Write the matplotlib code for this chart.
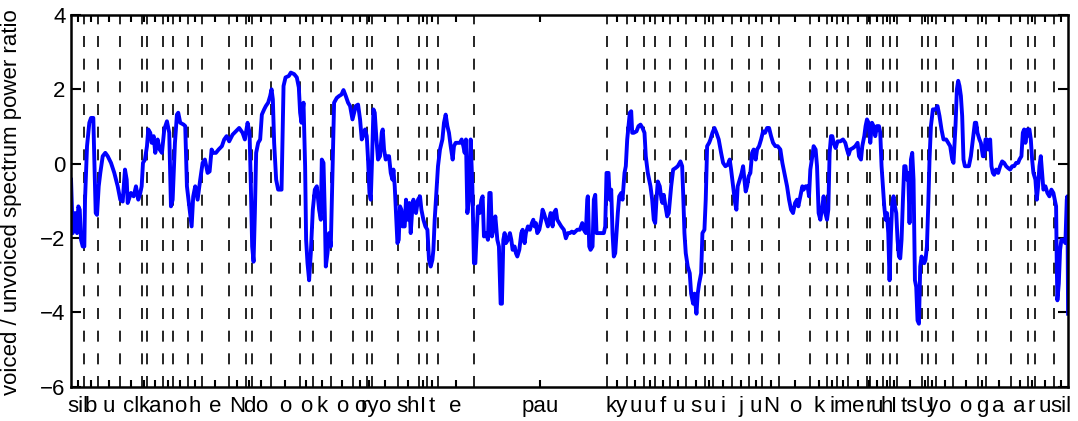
import numpy as np
import matplotlib
matplotlib.use("Agg")
import matplotlib.pyplot as plt

plt.rcParams['font.family'] = ['Liberation Sans', 'DejaVu Sans']

# segment boundaries (frames) and phoneme labels
boundaries = [0, 13, 27, 49, 71, 76, 92, 102, 117, 131, 158, 175, 181, 200, 229, 242,
              260, 282, 296, 301, 327, 348, 356, 367, 403, 536, 556, 574, 585, 600,
              616, 635, 643, 662, 679, 692, 709, 740, 757, 767, 778, 797, 800, 813,
              820, 827, 852, 858, 866, 883, 908, 916, 941, 958, 965, 984, 998]
phonemes = ['sil', 'b', 'u', 'cl', 'k', 'a', 'n', 'o', 'h', 'e', 'N', 'd', 'o', 'o',
            'o', 'k', 'o', 'o', 'ry', 'o', 'sh', 'I', 't', 'e', 'pau', 'ky', 'u', 'u',
            'f', 'u', 's', 'u', 'i', 'j', 'u', 'N', 'o', 'k', 'i', 'm', 'e', 'r', 'u',
            'h', 'I', 'ts', 'U', 'y', 'o', 'o', 'g', 'a', 'a', 'r', 'u', 'sil']

# voiced / unvoiced spectrum power ratio
ratio_x = [0, 1.7, 4, 6, 7.3, 8.7, 10, 11.7, 13.3, 14, 16, 18.3, 20, 22.3, 23.3, 24.7,
           26, 27.7, 29.3, 31.7, 34.3, 36.7, 40, 43.3, 46.7, 49.3, 51.7, 54, 55.7, 56.7,
           60, 62.7, 65, 67.3, 69.3, 70.7, 72, 74, 76, 77.3, 79.3, 80.7, 82.7, 84.3,
           86.7, 88.7, 91, 93.3, 96, 98.3, 100, 101.7, 104, 106, 107.3, 109.3, 112.7,
           114.3, 116, 118.3, 120.7, 122.3, 124.3, 126.7, 129.3, 131.7, 134, 136.7,
           138.7, 140.7, 142.3, 145, 147.7, 151, 153.3, 155.7, 158.3, 161.7, 165,
           168.3, 171.7, 174, 176.7, 178.7, 180, 181.3, 182.7, 184, 185.3, 187.3,
           189.3, 191, 193.3, 195, 197.3, 199.3, 200.7, 202, 203.3, 205.3, 207.3,
           210.7, 212.7, 214.7, 218, 220, 223.3, 226, 228, 229.3, 230.7, 232.7, 234.3,
           235.3, 236.7, 238.3, 240, 242, 244, 246, 248.3, 250, 251, 252.7, 254, 255,
           256.7, 258.3, 260, 261.7, 263.3,
           266, 268.3, 270.7, 272.7, 275, 277.3, 279.3, 281.7, 283.3, 285, 287.3,
           289.3, 291, 292.3, 294.3, 296, 297.3, 298.7, 300, 301.3, 302.7, 304, 305.7,
           307.3, 309.3, 311, 312, 313.3, 315, 316.7, 318.3, 320, 321.7, 322.7, 324,
           325.3, 326.7, 328, 329.3, 330.7, 332, 334, 335.3, 336.7, 338.7, 340, 341.3,
           342.7, 344, 345.3, 347.3, 349.3, 350.7, 352.7, 354.7, 356.7, 358.3, 360,
           361.7, 362.7, 364, 366, 367.3, 369.3, 371.7, 373.3, 375, 376.7, 378.3, 380,
           382, 383.3, 385, 386.7, 389.3, 391, 392.7, 394, 395.3, 396.7, 398.3, 400,
           401.7, 403.3, 404.7, 406, 407.3, 409, 410.7, 412, 413.3, 415.3, 417.3,
           418.7, 420, 421.3, 423.3, 424.7, 426.7, 428.3, 430, 431.3, 432.7, 434,
           435.3, 437.3, 439.3, 440.7, 442, 444, 445.3, 446.7, 448.7, 450.7, 452, 454,
           455.3, 457.3, 459.3, 461.3, 462.7, 464, 465.3, 466.7, 468.7, 470.7, 472,
           473.3, 475.3, 477.3, 480, 482, 483.3, 485.3, 486.7, 488.7, 490.7, 493.3,
           495.3, 497.3, 499.3, 501.3, 503.3, 506.7, 509.3, 511.7, 513.3, 515.3, 516.7,
           517.3, 518.7, 520, 522, 523.3, 524.7, 526, 528, 530.7, 533.3,
           534.7, 536, 538, 539.3, 540.7, 542, 543.3, 544.7, 546, 547.3, 548.7, 550.7,
           552, 554, 555.3, 556.7, 558, 559.3, 560.7, 561.7, 563.3, 566, 568, 570, 572,
           574, 575.3, 577.3, 580, 581.7, 583.3, 584.7, 586, 587.3, 589.3, 591, 592,
           593.3, 595, 596.7, 598.3, 600.7, 602.7, 605, 607.3, 610, 611.7, 612.7, 614,
           615.3, 617.3, 619.3, 620.7, 622.7, 624, 626, 627.3, 628.7, 630.7, 632, 634,
           635.3, 636.7, 638.7, 640, 642, 644, 646, 648.3, 650.7, 652.7, 655, 657.3,
           659.3, 660.7, 662.7, 664.7, 666, 667.3, 669.3, 671.3, 672.7, 674, 675.3,
           676.7, 678.3, 680, 681.7, 683.3, 685.3, 686.7, 688.7, 690.7, 692.7, 694.7,
           696.7, 698.7, 700.7, 702.7, 705, 707.3, 710, 712, 714, 716.7, 718.7, 720.7,
           722.7, 724.7, 726.7, 728, 730, 732, 733.3, 735.3, 737.3, 738.7, 740, 742,
           743.3, 745.3, 746.7, 748.3, 750, 752, 753.3, 755, 756.7, 758, 759.3, 760.7,
           762, 763.3, 765.3, 767.3,
           770, 772.7, 775, 776.7, 778.3, 780, 782.7, 785, 787.3, 788.7, 790.7, 792,
           794, 795.3, 796.7, 798.3, 800, 801.7, 803.3, 805, 806.7, 808.7, 810, 811.3,
           812.7, 814, 815.3, 816.7, 818, 819.3, 820.7, 822, 823.3, 824.7, 826, 827.3,
           828.7, 830, 831.3, 832.7, 834, 835.3, 836.7, 838, 839.3, 840.7, 842, 843.3,
           844.7, 846, 847.3, 848.7, 850, 851.3, 852.7, 854, 855.3, 856.7, 858, 859.3,
           860.7, 862.7, 865.3, 867.3, 869.3, 871.3, 873.3, 876, 878, 880, 882, 883.3,
           885.3, 886.7, 888, 889.3, 890.7, 892, 893.3, 894.7, 896.7, 898.7, 900.7,
           902.7, 904.7, 906, 907.3, 909.3, 910.7, 912.7, 914, 915.3, 916.7, 918, 920,
           921.3, 922.7, 924, 926, 928, 930, 932, 934, 936, 938, 940, 942, 944, 946,
           948, 949.3, 951.3, 952.7, 954, 955.3, 957.3, 959.3, 960.7, 962, 963.3,
           965.3, 966.7, 968, 969.3, 970.7, 972, 973.3, 975.3, 977.3, 979.3, 981.3,
           983.3, 984.7, 986, 986.7, 987.3, 988.7, 990, 991.3, 993.3, 995.3, 996.7,
           997.3, 998]
ratio_y = [-0.43, -1.87, -1.33, -1.87, -1.15, -1.24, -2.05, -2.23, -2.23, -0.97, 0.47,
           1.10, 1.23, 1.23, 0.11, -1.33, -1.38, -0.61, -0.25, 0.20, 0.29, 0.20, 0.02,
           -0.25, -0.61, -0.97, -1.02, -0.16, -0.43, -1.06, -0.79, -0.88, -0.61, -0.97,
           -0.79, -0.61, 0.02, 0.11, 0.47, 0.92, 0.83, 0.56, 0.74, 0.29, 0.65, 0.38,
           0.29, 0.92, 1.14, 0.83, -1.15, -0.97, 0.56, 1.32, 1.37, 1.10, 1.05, 1.01,
           -0.61, -1.15, -1.69, -0.88, -0.61, -0.97, -0.43, 0.02, 0.11, -0.25, -0.21,
           0.38, 0.29, 0.29, 0.38, 0.47, 0.65, 0.74, 0.60, 0.78, 0.87, 0.96, 0.83, 0.65,
           1.10, 0.83, -0.61, -2.23, -2.64, -1.33, 0.29, 0.56, 0.65, 1.32, 1.46, 1.55,
           1.64, 1.82, 2.00, 1.73, 0.56, -0.43, -0.70, -0.70, 2.09, 2.32, 2.36, 2.45,
           2.41, 2.32, 2.05, 1.37, 1.10, 1.64, -0.07, -2.05, -2.68, -3.14, -2.41, -1.24,
           -0.70, -0.61, -1.24, -1.51, 0.11, 0.02, -1.33, -2.77, -2.41, -1.87, -2.23,
           -0.25, 1.64,
           1.77, 1.82, 1.86, 1.98, 1.82, 1.64, 1.55, 1.19, 1.37, 1.55, 1.59, 1.19, 0.65,
           0.74, 0.92, 0.74, 0.11, -0.79, -0.97, 0.11, 1.46, 1.37, 0.65, 0.11, 0.20,
           0.83, 0.92, 0.38, 0.11, 0.20, 0.20, -0.25, -0.43, -0.16, -0.61, -1.33, -2.14,
           -2.05, -1.15, -1.24, -1.69, -1.69, -0.97, -1.51, -1.06, -1.87, -1.33, -0.97,
           -1.24, -1.33, -0.97, -0.88, -1.24, -1.51, -1.69, -1.78, -2.59, -2.77, -2.59,
           -2.32, -1.51, -0.61, -0.07, 0.38, 0.65, 1.10, 1.32, 1.01, 0.83, 0.47, 0.11,
           0.47, 0.56, 0.56, 0.56, 0.65, 0.47, 0.29, 0.65, -1.33, -0.97, 0.65, -0.61,
           -2.68, -2.68, -1.87, -1.15, -1.33, -0.97, -0.88, -1.96, -1.87, -2.05, -0.79,
           -0.79, -1.96, -1.69, -1.42, -2.05, -2.23, -3.77, -3.77, -2.05, -1.87, -2.14,
           -2.05, -1.87, -2.05, -2.32, -2.23, -2.41, -2.50, -2.32, -1.87, -1.78, -2.14,
           -1.87, -1.69, -1.78, -1.60, -1.51, -1.69, -1.60, -1.87, -1.78, -1.51, -1.24,
           -1.33, -1.51, -1.69, -1.33, -1.69, -1.33, -1.24, -1.51, -1.60, -1.69, -1.78,
           -2.01, -1.87, -1.87, -1.83, -1.87, -1.78, -1.78, -1.60, -1.78, -1.87, -0.97,
           -0.88, -2.23, -2.32, -2.23, -0.97, -0.84, -1.87, -1.87, -1.87, -1.87,
           -1.69, -0.25, -0.25, -0.97, -0.70, -1.87, -2.50, -2.41, -1.87, -1.33, -0.88,
           -0.79, -0.97, -0.25, -0.07, 0.65, 1.01, 1.37, 1.41, 0.83, 0.83, 0.87, 1.01,
           1.05, 0.96, 0.83, 0.20, -0.25, -0.61, -0.97, -1.51, -1.60, -0.97, -0.48,
           -0.61, -0.97, -1.06, -0.84, -1.15, -1.42, -1.33, -0.61, -0.16, -0.12, -0.07,
           0.06, -0.07, -0.79, -1.87, -2.41, -2.77, -2.95, -3.50, -3.77, -3.50, -4.04,
           -3.50, -3.23, -2.95, -1.87, -1.78, -0.97, 0.47, 0.56, 0.65, 0.83, 0.96, 0.83,
           0.65, 0.29, 0.02, -0.07, -0.03, 0.11, -0.16, -0.61, -1.06, -1.24, -0.61,
           -0.43, -0.25, -0.07, -0.43, -0.75, -0.61, -0.34, -0.25, 0.29, 0.38, 0.11,
           0.38, 0.47, 0.65, 0.87, 0.83, 0.96, 0.96, 0.74, 0.56, 0.47, 0.47, 0.38, 0.02,
           -0.25, -0.61, -0.97, -1.24, -1.33, -1.06, -0.97, -1.15, -0.88, -0.61, -0.70,
           -0.61, -0.61, -0.88, -0.16, 0.20, 0.47, 0.38, -0.07, -1.33, -1.51, -1.15,
           -0.88, -1.33, -1.51, -1.24, 0.29, 0.74, 0.74, 0.56, 0.42, 0.60,
           0.60, 0.65, 0.56, 0.38, 0.24, 0.38, 0.42, 0.47, 0.56, 0.20, 0.11, 0.47, 0.74,
           1.01, 1.19, 1.10, 0.56, 1.10, 1.01, 0.74, 1.01, 1.01, 0.83, -0.07, -0.61,
           -1.15, -1.51, -1.33, -1.87, -3.14, -1.87, -1.06, -0.88, -1.15, -1.33, -2.05,
           -2.50, -2.55, -2.05, -0.97, -0.07, -0.07, -0.43, -0.25, -1.60, 0.11, 0.29,
           -0.43, -3.14, -3.32, -4.22, -4.31, -2.77, -2.50, -2.59, -2.68, -2.59, -2.23,
           -1.15, 0.11, 1.01, 1.46, 1.46, 1.55, 1.28, 0.92, 0.65, 0.65, 0.56, 0.47, 0.11,
           0.02, 1.01, 2.00, 2.23, 2.09, 1.82, 1.28, 0.11, -0.07, -0.07, -0.07, 0.20,
           0.65, 1.10, 1.10, 0.83, 0.65, 0.56, 0.20, 0.20, 0.65, 0.65, 0.38, 0.65, -0.07,
           -0.25, -0.30, -0.16, -0.25, -0.07, 0.06, 0.02, -0.07, -0.12, -0.16, -0.07,
           -0.07, 0.02, 0.02, 0.11, 0.20, 0.83, 0.92, 0.56, 0.92, 0.92, 0.65, 0.11,
           -0.25, -0.43, -0.97, -0.61, -0.07, 0.20, -0.25, -0.70, -0.61, -0.79, -0.88,
           -0.70, -0.79, -0.97, -1.15, -2.77, -3.68, -3.23, -2.32, -2.05, -2.05, -2.14,
           -0.97, -0.88, -4.04]

centers = [(a + b) / 2 for a, b in zip(boundaries[:-1], boundaries[1:])]

fig = plt.figure(figsize=(10.78, 4.21), dpi=100)
ax = fig.add_axes([0.0659, 0.0819, 0.9249, 0.8824])

for b in boundaries[1:-1]:
    ax.plot([b, b], [-6, 4], color='black', lw=1.2, dashes=(6.6, 7.0))

ax.plot(ratio_x, ratio_y, color=(0, 0, 1), lw=2.8, solid_joinstyle='round')

ax.set_xlim(boundaries[0], boundaries[-1])
ax.set_ylim(-6, 4)
ax.set_yticks([-6, -4, -2, 0, 2, 4])
ax.set_xticks(centers)
ax.set_xticklabels(phonemes)
ax.tick_params(axis='both', direction='in', top=True, right=True,
               labelsize=16, width=1.5, colors='black')
ax.tick_params(axis='x', length=5, pad=7)
ax.tick_params(axis='y', length=7, pad=4)
for s in ax.spines.values():
    s.set_linewidth(1.8)

fig.text(12 / 1078, 0.52, 'voiced / unvoiced spectrum power ratio', fontsize=16,
         rotation=90, ha='center', va='center')

fig.savefig('out.png', dpi=100, facecolor='white')
